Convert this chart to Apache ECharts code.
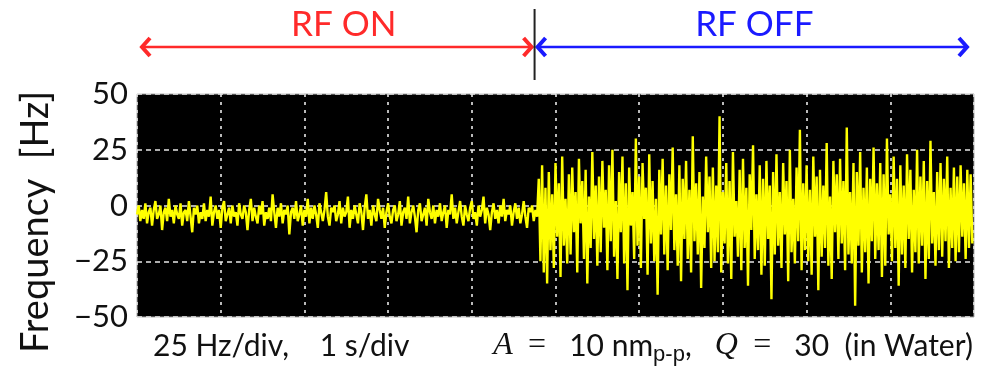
<!DOCTYPE html>
<html>
<head>
<meta charset="utf-8">
<script src="https://cdn.jsdelivr.net/npm/echarts@6/dist/echarts.min.js"></script>
<style>
  html, body { margin: 0; padding: 0; background: #fff; }
  #chart { width: 986px; height: 369px; }
</style>
</head>
<body>
<div id="chart"></div>
<script>
// sampling step (s) and moment RF is switched off
const dt = 0.02
const switchTime = 4.8

// frequency shift while RF is on (Hz)
const rfOn = [
  -4, 0, -7, -2, -6, 1, -8, -3, -1, -9, -2, 2, -6, -4, 0, -11, -3, -1, -7, 3,
  -5, -2, -8, 0, -4, -6, 1, -9, -3, -2, -7, 2, -5, -12, -1, -4, 0, -8, -3, -6,
  1, -7, -2, -5, 4, -9, -3, 0, -6, -2, -10, -1, 2, -7, -4, -1, -8, 0, -5, -3,
  -9, 1, -4, -6, 0, -3, -11, -2, 3, -7, -1, -5, -8, 0, -4, 2, -9, -3, -6, -1,
  -7, 5, -3, -10, -1, -5, 1, -8, -2, -4, 0, -13, -3, -1, -6, 2, -7, -4, 0, -9,
  -2, -5, 3, -8, -1, -6, 0, -4, -10, 1, -3, -7, -2, 6, -5, -9, -1, -3, 0, -7,
  -4, 2, -8, -1, -5, -3, 4, -10, -2, -6, 0, -4, -8, 1, -3, -11, -1, 5, -6, -2,
  -9, 0, -4, -7, 3, -2, -6, -1, -10, -3, 1, -5, -8, -2, 0, -7, -4, 2, -9, -3,
  -1, -6, 4, -8, -3, 0, -5, -12, -2, 1, -7, -4, -1, -9, 3, -3, -6, 0, -8, -2,
  -5, 1, -7, -3, 0, -10, -2, -4, 5, -6, -1, -8, -3, 2, -5, -9, 0, -4, -7, -1,
  2, -6, -3, -9, 0, -5, -2, 4, -8, -1, -4, -11, -3, 1, -6, -2, -8, 0, -5, 3,
  -7, -2, -4, 0, -9, -3, 1, -6, -1, -8, -4, 2, -5, -10, -1, -3, 0, -7, -2, -5
]

// frequency shift after RF is off (Hz)
const rfOff = [
  12, -25, 18, -30, 8, -35, 15, -20, 5, -28, 19, -14, 10, -32, 22, -18, 3, -26, 14, -22,
  17, -12, 6, -30, 21, -8, 11, -24, 16, -35, 4, -19, 24, -15, 9, -27, 13, -21, 20, -10,
  7, -29, 18, -16, 25, -23, 2, -33, 15, -12, 22, -26, 10, -38, 17, -9, 6, -24, 30, -18,
  13, -28, 19, -6, 8, -31, 23, -17, 11, -25, 3, -40, 16, -13, 21, -22, 9, -29, 14, -11,
  26, -20, 5, -27, 18, -34, 12, -15, 20, -24, 7, -30, 31, -16, 10, -22, 15, -37, 4, -19,
  22, -12, 13, -28, 17, -25, 9, -21, 40, -30, 6, -17, 19, -26, 11, -33, 24, -14, 2, -23,
  16, -29, 21, -19, 8, -36, 14, -11, 27, -24, 5, -20, 18, -31, 12, -27, 20, -15, 9, -42,
  15, -22, 23, -18, 6, -28, 19, -13, 11, -34, 25, -21, 3, -26, 17, -16, 34, -29, 10, -20,
  18, -25, 7, -31, 22, -14, 13, -38, 16, -23, 9, -19, 28, -27, 4, -33, 20, -12, 14, -24,
  21, -17, 11, -29, 35, -22, 6, -26, 19, -45, 15, -18, 24, -30, 8, -21, 17, -35, 12, -16,
  26, -24, 10, -20, 19, -32, 14, -27, 30, -13, 5, -25, 22, -19, 12, -36, 18, -22, 9, -28,
  23, -15, 16, -30, 7, -21, 25, -26, 13, -18, 20, -33, 11, -24, 29, -17, 6, -27, 15, -20,
  19, -23, 12, -16, 22, -28, 8, -19, 17, -25, 13, -21, 18, -14, 10, -24, 16, -19, 14, -17
]

const yTicks = [-50, -25, 0, 25, 50]

const font = 'Lato'
const signal = rfOn.concat(rfOff).map((v, i) => [i * dt, v])

const chart = echarts.init(document.getElementById('chart'))

chart.setOption({
  animation: false,
  grid: {
    left: 137,
    right: 12,
    top: 94,
    bottom: 52,
    show: true,
    backgroundColor: '#000',
    borderColor: '#aaa',
    borderWidth: 1
  },
  xAxis: {
    type: 'value',
    min: 0,
    max: 10,
    interval: 1,
    axisLine: { show: false },
    axisTick: { show: false },
    axisLabel: { show: false },
    splitLine: {
      show: true,
      lineStyle: { color: '#e8e8e8', width: 1.6, type: [3, 5] }
    }
  },
  yAxis: {
    type: 'value',
    min: yTicks[0],
    max: yTicks[yTicks.length - 1],
    interval: 25,
    axisLine: { show: false },
    axisTick: { show: false },
    axisLabel: {
      margin: 9,
      fontSize: 31,
      fontFamily: font,
      color: '#111',
      formatter: v => String(v).replace('-', '\u2212')
    },
    splitLine: {
      show: true,
      lineStyle: { color: '#e8e8e8', width: 1.6, type: [5, 4] }
    }
  },
  series: [{
    type: 'line',
    data: signal,
    showSymbol: false,
    lineStyle: { color: '#ffff00', width: 2.4 },
    z: 1
  }]
})

// annotations placed through the axes
const x0 = chart.convertToPixel({ xAxisIndex: 0 }, 0)
const xs = chart.convertToPixel({ xAxisIndex: 0 }, switchTime - 0.05)
const x1 = chart.convertToPixel({ xAxisIndex: 0 }, 10)
const ay = 47

function arrow(xa, xb, color) {
  return [
    { type: 'line', shape: { x1: xa, y1: ay, x2: xb, y2: ay }, style: { stroke: color, lineWidth: 2.5 } },
    { type: 'polyline', shape: { points: [[xa + 9, ay - 9], [xa + 1, ay], [xa + 9, ay + 9]] }, style: { stroke: color, lineWidth: 4, fill: null } },
    { type: 'polyline', shape: { points: [[xb - 9, ay - 9], [xb - 1, ay], [xb - 9, ay + 9]] }, style: { stroke: color, lineWidth: 4, fill: null } }
  ]
}

chart.setOption({
  graphic: [
    ...arrow(x0 + 4, xs - 2, '#ff2a2a'),
    ...arrow(xs + 2, x1 - 6, '#1a1aff'),
    { type: 'line', shape: { x1: xs, y1: 9, x2: xs, y2: 80 }, style: { stroke: '#222', lineWidth: 2 } },
    { type: 'text', x: (x0 + xs) / 2 + 8, y: 25, style: { text: 'RF ON', fill: '#ff2a2a', font: '35px ' + font, align: 'center', verticalAlign: 'middle' } },
    { type: 'text', x: (xs + x1) / 2, y: 25, style: { text: 'RF OFF', fill: '#1a1aff', font: '35px ' + font, align: 'center', verticalAlign: 'middle' } },
    { type: 'text', x: 36, y: 222, rotation: Math.PI / 2, style: { text: 'Frequency  [Hz]', fill: '#111', font: '38px ' + font, align: 'center', verticalAlign: 'middle' } },
    { type: 'text', x: 153, y: 346, style: { text: '25 Hz/div,    1 s/div', fill: '#111', font: '30px ' + font, align: 'left', verticalAlign: 'middle' } },
    {
      type: 'text', x: 973, y: 346,
      style: {
        text: '{i|A}  {m|=}   10 nm{s|p-p},   {i|Q}  {m|=}   30  (in Water)',
        fill: '#111', font: '30px ' + font, align: 'right', verticalAlign: 'middle',
        rich: {
          i: { fontFamily: 'Liberation Serif', fontStyle: 'italic', fontSize: 32 },
          m: { fontFamily: 'Liberation Serif', fontSize: 32 },
          s: { fontSize: 22, padding: [17, 0, 0, 0] }
        }
      }
    }
  ]
})
</script>
</body>
</html>
